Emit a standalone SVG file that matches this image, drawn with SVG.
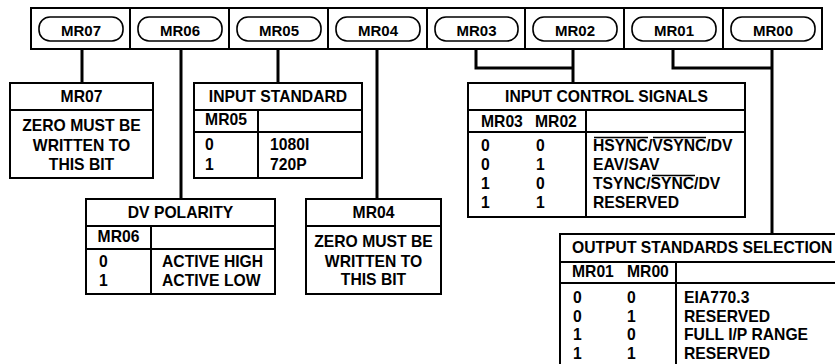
<svg xmlns="http://www.w3.org/2000/svg" width="835" height="364" viewBox="0 0 835 364">
<style>
text{font-family:"Liberation Sans",Arial,Helvetica,sans-serif;font-weight:bold;font-size:15.7px;fill:#000}
.c{text-anchor:middle}
.pl{font-size:15px}
.bx{fill:#fff;stroke:#000;stroke-width:2}
.ln{fill:none;stroke:#000;stroke-width:2}
.pill{fill:#fff;stroke:#000;stroke-width:1.6}
.cn{fill:none;stroke:#000;stroke-width:3}
.ov{stroke:#000;stroke-width:1.3}
</style>
<rect width="835" height="364" fill="#fff"/>
<g id="connectors">
<line class="cn" x1="82" y1="49" x2="82" y2="83"/>
<line class="cn" x1="181" y1="49" x2="181" y2="199"/>
<line class="cn" x1="278" y1="49" x2="278" y2="83"/>
<line class="cn" x1="377" y1="49" x2="377" y2="199"/>
<polyline class="cn" points="476,49 476,68 573,68"/>
<line class="cn" x1="573" y1="49" x2="573" y2="83"/>
<polyline class="cn" points="673,49 673,68 772,68"/>
<line class="cn" x1="772" y1="49" x2="772" y2="234"/>
</g>
<g id="register">
<rect class="bx" x="31" y="8" width="791" height="41"/>
<path class="ln" d="M130,8V49M229,8V49M328,8V49M427,8V49M525,8V49M624,8V49M723,8V49"/>
<g id="MR07"><rect class="pill" x="39" y="17" width="84" height="24" rx="11"/><text class="c pl" x="81" y="35.5">MR07</text></g>
<g id="MR06"><rect class="pill" x="138" y="17" width="84" height="24" rx="11"/><text class="c pl" x="180" y="35.5">MR06</text></g>
<g id="MR05"><rect class="pill" x="237" y="17" width="84" height="24" rx="11"/><text class="c pl" x="279" y="35.5">MR05</text></g>
<g id="MR04"><rect class="pill" x="336" y="17" width="84" height="24" rx="11"/><text class="c pl" x="378" y="35.5">MR04</text></g>
<g id="MR03"><rect class="pill" x="435" y="17" width="83" height="24" rx="11"/><text class="c pl" x="476.5" y="35.5">MR03</text></g>
<g id="MR02"><rect class="pill" x="533" y="17" width="84" height="24" rx="11"/><text class="c pl" x="575" y="35.5">MR02</text></g>
<g id="MR01"><rect class="pill" x="632" y="17" width="84" height="24" rx="11"/><text class="c pl" x="674" y="35.5">MR01</text></g>
<g id="MR00"><rect class="pill" x="731" y="17" width="84" height="24" rx="11"/><text class="c pl" x="773" y="35.5">MR00</text></g>
</g>
<g id="box-mr07">
<rect class="bx" x="10" y="83" width="143" height="95"/>
<line class="ln" x1="10" y1="110" x2="153" y2="110"/>
<text class="c" x="81.5" y="102">MR07</text>
<text class="c" x="81.5" y="131">ZERO MUST BE</text>
<text class="c" x="81.5" y="151">WRITTEN TO</text>
<text class="c" x="81.5" y="170">THIS BIT</text>
</g>
<g id="box-input-standard">
<rect class="bx" x="194" y="83" width="168" height="95"/>
<path class="ln" d="M194,110H362M194,132H362M258,110V178"/>
<text class="c" x="278" y="102">INPUT STANDARD</text>
<text class="c" x="226" y="125">MR05</text>
<text x="205" y="150">0</text>
<text x="205" y="170">1</text>
<text x="270" y="150">1080I</text>
<text x="270" y="170">720P</text>
</g>
<g id="box-dv-polarity">
<rect class="bx" x="86" y="199" width="189" height="95"/>
<path class="ln" d="M86,226H275M86,249H275M151,226V294"/>
<text class="c" x="180.5" y="218">DV POLARITY</text>
<text class="c" x="118.5" y="242">MR06</text>
<text x="99" y="267">0</text>
<text x="99" y="286">1</text>
<text x="162" y="267">ACTIVE HIGH</text>
<text x="162" y="286">ACTIVE LOW</text>
</g>
<g id="box-mr04">
<rect class="bx" x="306" y="199" width="135" height="95"/>
<line class="ln" x1="306" y1="226" x2="441" y2="226"/>
<text class="c" x="373.5" y="218">MR04</text>
<text class="c" x="373.5" y="247">ZERO MUST BE</text>
<text class="c" x="373.5" y="267">WRITTEN TO</text>
<text class="c" x="373.5" y="285">THIS BIT</text>
</g>
<g id="box-input-control">
<rect class="bx" x="468" y="83" width="277" height="134"/>
<path class="ln" d="M468,110H745M468,132H745M586,110V217"/>
<text class="c" x="606.5" y="102">INPUT CONTROL SIGNALS</text>
<text x="481" y="127">MR03</text>
<text x="535" y="127">MR02</text>
<text x="481" y="151">0</text><text x="536" y="151">0</text>
<text x="481" y="170">0</text><text x="536" y="170">1</text>
<text x="481" y="189">1</text><text x="536" y="189">0</text>
<text x="481" y="208">1</text><text x="536" y="208">1</text>
<text x="593" y="151">HSYNC/VSYNC/DV</text>
<text x="593" y="170">EAV/SAV</text>
<text x="593" y="189">TSYNC/SYNC/DV</text>
<text x="593" y="208">RESERVED</text>
<line class="ov" x1="594" y1="137.5" x2="648" y2="137.5"/>
<line class="ov" x1="653" y1="137.5" x2="706" y2="137.5"/>
<line class="ov" x1="652" y1="175.5" x2="695" y2="175.5"/>
</g>
<g id="box-output-standards">
<rect class="bx" x="560" y="234" width="290" height="140"/>
<path class="ln" d="M560,262H850M560,283H850M676,262V374"/>
<text x="572" y="253">OUTPUT STANDARDS SELECTION</text>
<text x="572" y="277">MR01</text>
<text x="627" y="277">MR00</text>
<text x="573" y="303">0</text><text x="627" y="303">0</text>
<text x="573" y="322">0</text><text x="627" y="322">1</text>
<text x="573" y="340">1</text><text x="627" y="340">0</text>
<text x="573" y="359">1</text><text x="627" y="359">1</text>
<text x="684" y="303">EIA770.3</text>
<text x="684" y="322">RESERVED</text>
<text x="684" y="340">FULL I/P RANGE</text>
<text x="684" y="359">RESERVED</text>
</g>
</svg>
